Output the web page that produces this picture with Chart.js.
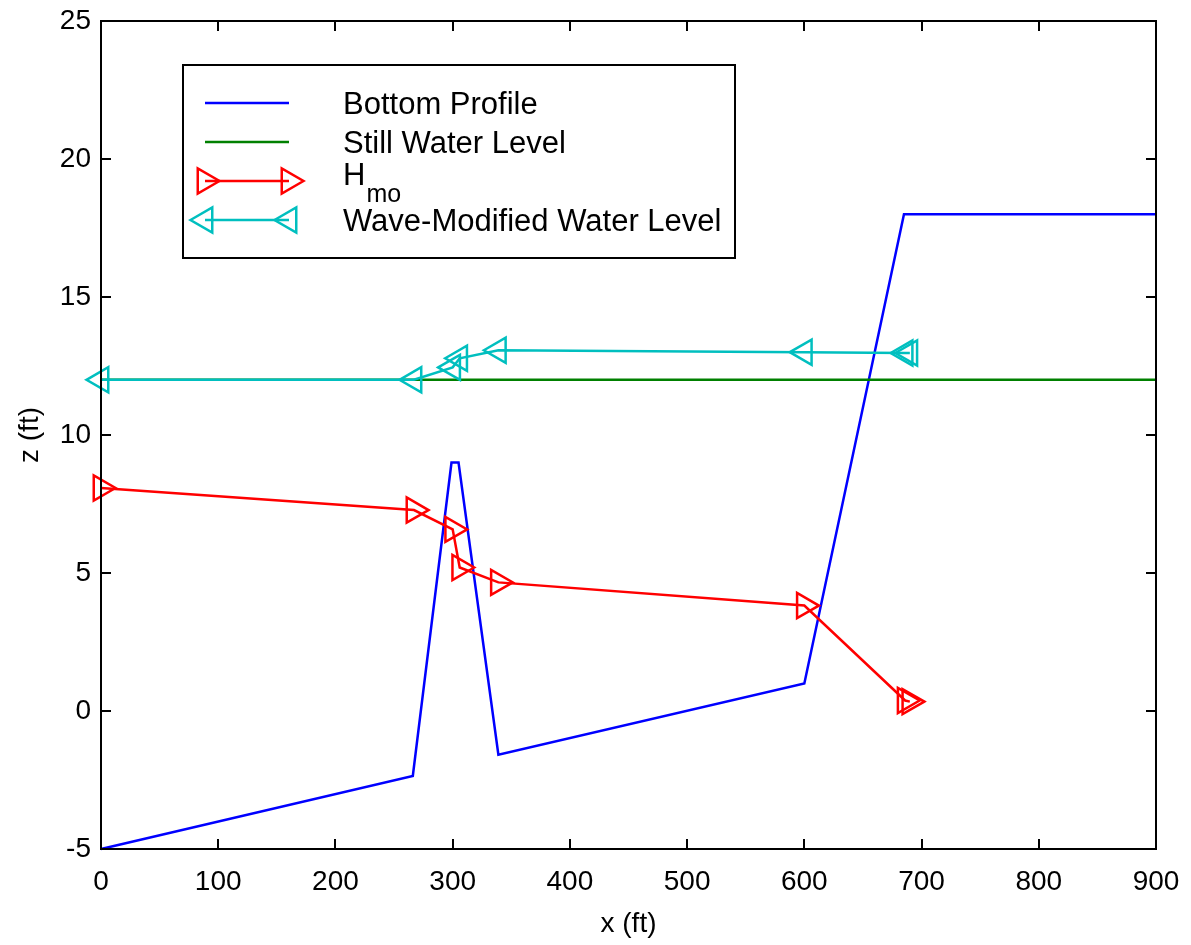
<!DOCTYPE html>
<html>
<head>
<meta charset="utf-8">
<title>Bottom profile and wave setup</title>
<script src="https://cdn.jsdelivr.net/npm/chart.js@4.4.1/dist/chart.umd.min.js"></script>
<style>
  html, body { margin: 0; padding: 0; background: #fff; }
  #wrap { width: 1191px; height: 945px; }
</style>
</head>
<body>
<div id="wrap"><canvas id="profileChart" width="1191" height="945"></canvas></div>
<script>
// Bottom profile (x, z in ft)
const bottomX = [0, 266, 299, 305, 339, 600, 685, 900];
const bottomZ = [-5, -2.35, 9, 9, -1.58, 1, 18, 18];

// Still water level
const swlX = [0, 900];
const swlZ = [12, 12];

// Model output stations
const stationX = [0, 267, 300, 306, 339, 600, 686, 690];
const hmoZ = [8.08, 7.28, 6.58, 5.2, 4.66, 3.82, 0.38, 0.34];
const waveLevelZ = [12, 12, 12.45, 12.78, 13.07, 13.0, 12.97, 12.97];

// Axis ticks
const xTicks = [0, 100, 200, 300, 400, 500, 600, 700, 800, 900];
const yTicks = [-5, 0, 5, 10, 15, 20, 25];

// Legend text (Hmo drawn with a subscript)
const legendLabels = ['Bottom Profile', 'Still Water Level', ['H', 'mo'], 'Wave-Modified Water Level'];

const FONT = "'Liberation Sans', Arial, Helvetica, sans-serif";

function toPoints(xs, ys) {
    return xs.map((x, i) => ({ x: x, y: ys[i] }));
}

// Same vertex layout Chart.js uses for its 'triangle' point style
function drawTriangle(ctx, x, y, r, rotationDeg) {
    let rad = rotationDeg * Math.PI / 180;
    ctx.beginPath();
    ctx.moveTo(x + Math.sin(rad) * r, y - Math.cos(rad) * r);
    rad += 2 * Math.PI / 3;
    ctx.lineTo(x + Math.sin(rad) * r, y - Math.cos(rad) * r);
    rad += 2 * Math.PI / 3;
    ctx.lineTo(x + Math.sin(rad) * r, y - Math.cos(rad) * r);
    ctx.closePath();
    ctx.stroke();
}

// Let layout.padding alone decide where the plot box sits
function noLabelOverhang(scale) {
    scale.paddingLeft = 0;
    scale.paddingRight = 0;
    scale.paddingTop = 0;
    scale.paddingBottom = 0;
}

// Box around the plot with inward tick marks on all four sides
const framePlugin = {
    id: 'frame',
    afterDraw(chart) {
        const ctx = chart.ctx;
        const area = chart.chartArea;
        const xs = chart.scales.x;
        const ys = chart.scales.y;
        const len = 10;
        ctx.save();
        ctx.strokeStyle = '#000';
        ctx.lineWidth = 2;
        ctx.beginPath();
        xTicks.forEach(v => {
            const px = Math.round(xs.getPixelForValue(v));
            ctx.moveTo(px, area.bottom);
            ctx.lineTo(px, area.bottom - len);
            ctx.moveTo(px, area.top);
            ctx.lineTo(px, area.top + len);
        });
        yTicks.forEach(v => {
            const py = Math.round(ys.getPixelForValue(v));
            ctx.moveTo(area.left, py);
            ctx.lineTo(area.left + len, py);
            ctx.moveTo(area.right, py);
            ctx.lineTo(area.right - len, py);
        });
        ctx.stroke();
        ctx.strokeRect(area.left, area.top, area.right - area.left, area.bottom - area.top);
        ctx.restore();
    }
};

// Boxed legend inside the plot, styled from the datasets
const boxLegendPlugin = {
    id: 'boxLegend',
    afterDraw(chart) {
        const ctx = chart.ctx;
        const box = { left: 183, top: 65, width: 552, height: 193 };
        const rows = [103, 142, 181, 220];
        const lineStart = 205, lineEnd = 289, textX = 343;

        ctx.save();
        ctx.fillStyle = '#fff';
        ctx.fillRect(box.left, box.top, box.width, box.height);
        ctx.strokeStyle = '#000';
        ctx.lineWidth = 2;
        ctx.strokeRect(box.left, box.top, box.width, box.height);

        chart.data.datasets.forEach((ds, i) => {
            const y = rows[i];
            ctx.strokeStyle = ds.borderColor;
            ctx.lineWidth = ds.borderWidth;
            ctx.beginPath();
            ctx.moveTo(lineStart, y);
            ctx.lineTo(lineEnd, y);
            ctx.stroke();
            if (ds.pointRadius > 0) {
                ctx.lineWidth = ds.pointBorderWidth;
                drawTriangle(ctx, lineStart, y, ds.pointRadius, ds.pointRotation);
                drawTriangle(ctx, lineEnd, y, ds.pointRadius, ds.pointRotation);
            }

            ctx.fillStyle = '#000';
            ctx.textAlign = 'left';
            ctx.textBaseline = 'alphabetic';
            const label = legendLabels[i];
            if (Array.isArray(label)) {
                ctx.font = '31px ' + FONT;
                ctx.fillText(label[0], textX, y + 4);
                const w = ctx.measureText(label[0]).width;
                ctx.font = '25px ' + FONT;
                ctx.fillText(label[1], textX + w + 1, y + 21);
            } else {
                ctx.font = '31px ' + FONT;
                ctx.fillText(label, textX, y + 11);
            }
        });
        ctx.restore();
    }
};

const ctx = document.getElementById('profileChart');

new Chart(ctx, {
    type: 'scatter',
    data: {
        datasets: [
            {
                label: 'Bottom Profile',
                data: toPoints(bottomX, bottomZ),
                showLine: true,
                borderColor: '#0000ff',
                borderWidth: 2.5,
                borderJoinStyle: 'miter',
                pointRadius: 0,
                clip: false,
                order: 4
            },
            {
                label: 'Still Water Level',
                data: toPoints(swlX, swlZ),
                showLine: true,
                borderColor: '#008000',
                borderWidth: 2.5,
                pointRadius: 0,
                clip: false,
                order: 3
            },
            {
                label: 'Hmo',
                data: toPoints(stationX, hmoZ),
                showLine: true,
                borderColor: '#ff0000',
                borderWidth: 2.5,
                pointStyle: 'triangle',
                pointRotation: 90,
                pointRadius: 14.5,
                pointBorderWidth: 2.5,
                pointBorderColor: '#ff0000',
                pointBackgroundColor: 'rgba(0,0,0,0)',
                clip: false,
                order: 2
            },
            {
                label: 'Wave-Modified Water Level',
                data: toPoints(stationX, waveLevelZ),
                showLine: true,
                borderColor: '#00bfbf',
                borderWidth: 2.5,
                pointStyle: 'triangle',
                pointRotation: 270,
                pointRadius: 14.5,
                pointBorderWidth: 2.5,
                pointBorderColor: '#00bfbf',
                pointBackgroundColor: 'rgba(0,0,0,0)',
                clip: false,
                order: 1
            }
        ]
    },
    options: {
        responsive: false,
        animation: false,
        events: [],
        layout: {
            padding: { left: 0, right: 35, top: 21, bottom: 0 }
        },
        plugins: {
            legend: { display: false },
            tooltip: { enabled: false }
        },
        scales: {
            x: {
                type: 'linear',
                min: 0,
                max: 900,
                afterBuildTicks: scale => {
                    scale.ticks = xTicks.map(v => ({ value: v }));
                },
                afterFit: scale => {
                    scale.height = 96;
                    noLabelOverhang(scale);
                },
                grid: { display: false, drawTicks: false },
                border: { display: false },
                ticks: {
                    color: '#000',
                    padding: 16,
                    maxRotation: 0,
                    autoSkip: false,
                    font: { family: FONT, size: 28 }
                },
                title: {
                    display: true,
                    text: 'x (ft)',
                    color: '#000',
                    padding: { top: 0, bottom: 4 },
                    font: { family: FONT, size: 28 }
                }
            },
            y: {
                type: 'linear',
                min: -5,
                max: 25,
                afterBuildTicks: scale => {
                    scale.ticks = yTicks.map(v => ({ value: v }));
                },
                afterFit: scale => {
                    scale.width = 101;
                    noLabelOverhang(scale);
                },
                grid: { display: false, drawTicks: false },
                border: { display: false },
                ticks: {
                    color: '#000',
                    padding: 10,
                    autoSkip: false,
                    font: { family: FONT, size: 28 }
                },
                title: {
                    display: true,
                    text: 'z (ft)',
                    color: '#000',
                    padding: { top: 13, bottom: 0 },
                    font: { family: FONT, size: 28 }
                }
            }
        }
    },
    plugins: [framePlugin, boxLegendPlugin]
});
</script>
</body>
</html>
